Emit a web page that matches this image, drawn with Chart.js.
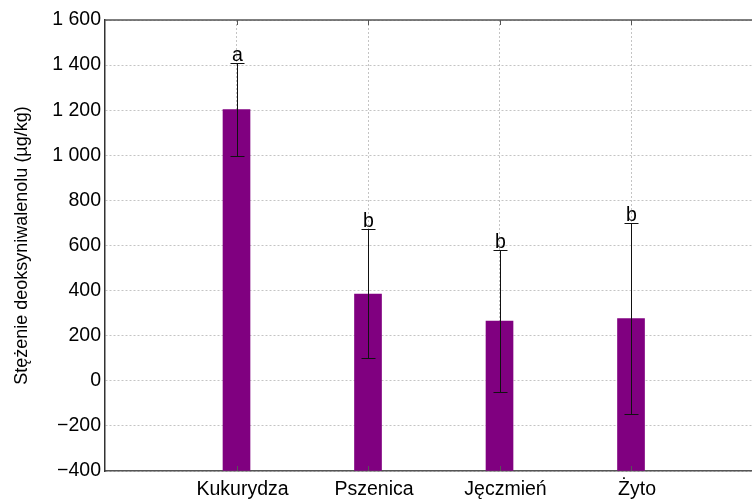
<!DOCTYPE html>
<html>
<head>
<meta charset="utf-8">
<script src="https://cdn.jsdelivr.net/npm/chart.js@4/dist/chart.umd.min.js"></script>
<style>
  html, body { margin: 0; padding: 0; background: #fff; }
  #wrap { width: 752px; height: 501px; }
</style>
</head>
<body>
<div id="wrap"><canvas id="wykres" width="752" height="501"></canvas></div>
<script>
/* =========================
   DANE
========================= */
const kategorie = ["Kukurydza", "Pszenica", "Jęczmień", "Żyto"];
const srednie = [1203, 385, 265, 276];
const bledy = [206, 286, 315, 424];
const litery = ["a", "b", "b", "b"];
const yTicki = [-400, -200, 0, 200, 400, 600, 800, 1000, 1200, 1400, 1600];

const FONT = "'Liberation Sans', Arial, sans-serif";

function formatuj(v) {
  const s = Math.abs(v).toString().replace(/\B(?=(\d{3})+(?!\d))/g, " ");
  return (v < 0 ? "\u2212" : "") + s;
}

/* =========================
   PLUGIN: słupki błędów, litery, ramka
========================= */
const dodatki = {
  id: "dodatki",
  afterDatasetsDraw(chart) {
    const { ctx, chartArea, scales } = chart;
    const x = scales.x, y = scales.y;
    ctx.save();

    // górna krawędź ramki
    ctx.strokeStyle = "#555";
    ctx.lineWidth = 1.5;
    ctx.beginPath();
    ctx.moveTo(chartArea.left, chartArea.top);
    ctx.lineTo(chartArea.right, chartArea.top);
    ctx.stroke();

    // znaczniki na górze i dole
    ctx.lineWidth = 1;
    kategorie.forEach((k, i) => {
      const px = Math.round(x.getPixelForValue(i + 1)) + 0.5;
      ctx.beginPath();
      ctx.moveTo(px, chartArea.top);
      ctx.lineTo(px, chartArea.top + 5);
      ctx.moveTo(px, chartArea.bottom);
      ctx.lineTo(px, chartArea.bottom - 5);
      ctx.stroke();
    });

    // słupki błędów
    ctx.strokeStyle = "#111";
    ctx.lineWidth = 1;
    srednie.forEach((m, i) => {
      const px = Math.round(x.getPixelForValue(i + 1)) + 0.5;
      const gora = Math.round(y.getPixelForValue(m + bledy[i])) + 0.5;
      const dol = Math.round(y.getPixelForValue(m - bledy[i])) + 0.5;
      ctx.beginPath();
      ctx.moveTo(px, gora);
      ctx.lineTo(px, dol);
      ctx.moveTo(px - 7, gora);
      ctx.lineTo(px + 7, gora);
      ctx.moveTo(px - 7, dol);
      ctx.lineTo(px + 7, dol);
      ctx.stroke();

      ctx.fillStyle = "#000";
      ctx.font = "19.5px " + FONT;
      ctx.textAlign = "center";
      ctx.textBaseline = "alphabetic";
      ctx.fillText(litery[i], px, gora - 3);
    });

    ctx.restore();
  }
};

/* =========================
   WYKRES
========================= */
new Chart(document.getElementById("wykres"), {
  type: "bar",
  data: {
    datasets: [{
      data: srednie.map((v, i) => ({ x: i + 1, y: v })),
      base: -400,
      backgroundColor: "#800080",
      borderWidth: 0,
      barThickness: 27
    }]
  },
  options: {
    responsive: false,
    animation: false,
    layout: { padding: { top: 20, left: 0, right: 0, bottom: 0 } },
    plugins: { legend: { display: false }, tooltip: { enabled: false } },
    scales: {
      x: {
        type: "linear",
        min: 0,
        max: 4.92,
        offset: false,
        afterBuildTicks: s => { s.ticks = kategorie.map((k, i) => ({ value: i + 1 })); },
        afterFit: s => { s.height = 30; },
        ticks: {
          callback: v => kategorie[v - 1] || "",
          color: "#000",
          font: { family: FONT, size: 19.5 },
          padding: 7,
          labelOffset: 6,
          maxRotation: 0,
          autoSkip: false
        },
        grid: {
          offset: false,
          color: "#c4c4c4",
          lineWidth: 1,
          drawTicks: false
        },
        border: { color: "#555", width: 1.5, dash: [2, 2] },
        title: { display: false }
      },
      y: {
        min: -400,
        max: 1600,
        afterBuildTicks: s => { s.ticks = yTicki.map(v => ({ value: v })); },
        afterFit: s => { s.width = 105; },
        ticks: {
          callback: v => formatuj(v),
          color: "#000",
          font: { family: FONT, size: 19.5 },
          padding: 4
        },
        grid: {
          color: "#c4c4c4",
          lineWidth: 1,
          drawTicks: false
        },
        border: { color: "#333", width: 1.5, dash: [2, 2] },
        title: {
          display: true,
          text: "Stężenie deoksyniwalenolu (µg/kg)",
          color: "#000",
          font: { family: FONT, size: 18 },
          padding: { top: 11, bottom: 0 }
        }
      }
    }
  },
  plugins: [dodatki]
});
</script>
</body>
</html>
